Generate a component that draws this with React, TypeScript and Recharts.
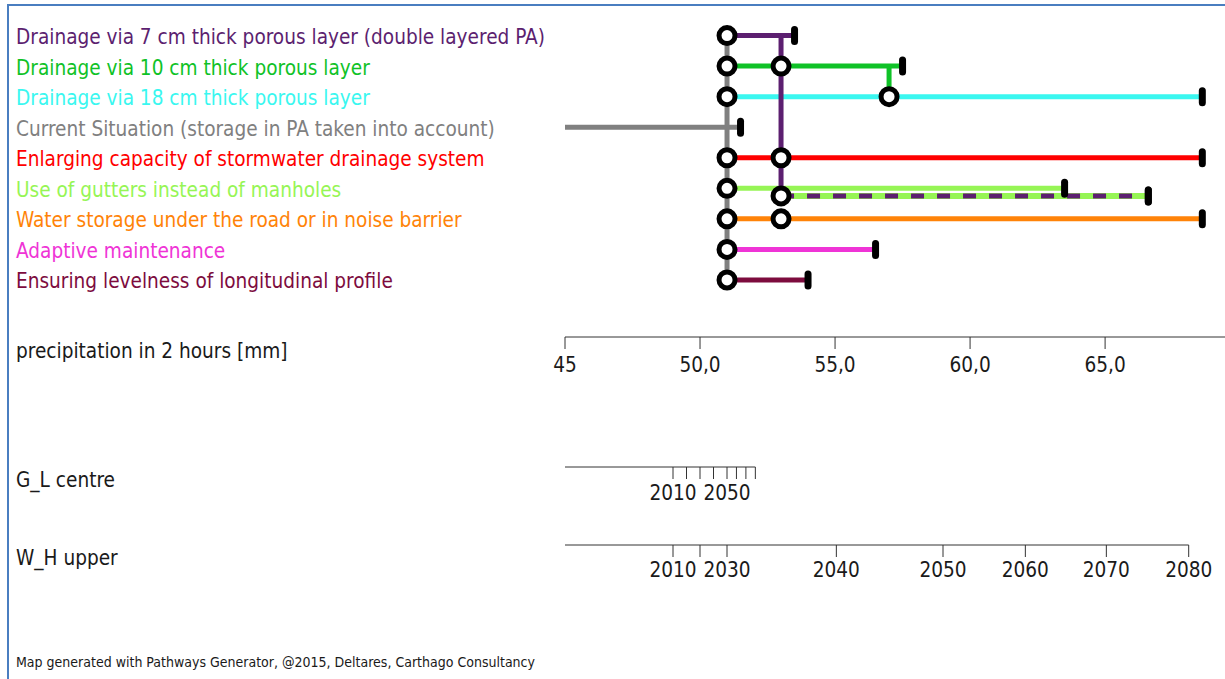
import React from 'react';
import { ComposedChart, LineChart, Line, Scatter, XAxis, YAxis } from 'recharts';

const FONT = '"DejaVu Sans Condensed", "DejaVu Sans", sans-serif';
const FS = 20.6;

// ---- Measures (rows) ----
const measureNames = [
  'Drainage via 7 cm thick porous layer (double layered PA)',
  'Drainage via 10 cm thick porous layer',
  'Drainage via 18 cm thick porous layer',
  'Current Situation (storage in PA taken into account)',
  'Enlarging capacity of stormwater drainage system',
  'Use of gutters instead of manholes',
  'Water storage under the road or in noise barrier',
  'Adaptive maintenance',
  'Ensuring levelness of longitudinal profile',
];
const measureColors = [
  '#5c1f70', '#0fc227', '#3af7f0', '#808080', '#ff0000',
  '#96f555', '#ff8308', '#ef34d6', '#7d0c3e',
];
const measureRows = [0, 1, 2, 3, 4, 5, 6, 7, 8];

// ---- Horizontal pathway segments (row, start, end in mm) ----
const segRows = [0, 1, 2, 3, 4, 5, 5.25, 6, 7, 8];
const segStarts = [51, 51, 51, 45, 51, 51, 53, 51, 51, 51];
const segEnds = [53.5, 57.5, 68.6, 51.5, 68.6, 63.5, 66.6, 68.6, 56.5, 54];
const segColorIdx = [0, 1, 2, 3, 4, 5, 5, 6, 7, 8];

// dashed overlay (purple pathway continuing on gutters)
const dashRow = 5.25;
const dashStart = 53;
const dashEnd = 66.6;

// ---- Vertical transfers (x, fromRow, toRow, colour index) ----
const transferX = [51, 53, 57];
const transferFrom = [0, 0, 1];
const transferTo = [8, 5.25, 2];
const transferColorIdx = [3, 0, 1];

// ---- Transfer nodes (circles) ----
const nodeX = [51, 51, 51, 51, 51, 51, 51, 51, 53, 53, 53, 53, 57];
const nodeRow = [0, 1, 2, 4, 5, 6, 7, 8, 1, 4, 5.25, 6, 2];

// ---- Axes ----
const precipTicks = [45, 50, 55, 60, 65];
const precipDomain = [45, 69.44];

const years = [2010, 2020, 2030, 2040, 2050, 2060, 2070, 2080];
const glValues = [49, 49.5, 50, 50.5, 51, 51.35, 51.7, 52.05];
const glShown = [true, false, false, false, true, false, false, false];
const whValues = [49, 50, 51, 55.05, 59, 62.05, 65.05, 68.1];
const whShown = [true, false, true, true, true, true, true, true];

const PLOT_LEFT = 565;
const PX_PER_MM = 27;
const LABEL_X = 16;

const seg = (x1: number, y1: number, x2: number, y2: number) => [
  { x: x1, y: y1 },
  { x: x2, y: y2 },
];

const NodeShape = (p: any) => (
  <circle cx={p.cx} cy={p.cy} r={8} fill="#ffffff" stroke="#000000" strokeWidth={5} />
);
const CapShape = (p: any) => (
  <rect x={p.cx - 3.5} y={p.cy - 9.5} width={7} height={19} rx={3.5} ry={3.5} fill="#000000" />
);

const RowLabel = (p: any) => {
  const v = p.payload.value;
  const i = measureRows.indexOf(v);
  if (i < 0) return null;
  return (
    <text x={LABEL_X} y={p.y + 8.5} fill={measureColors[i]} fontSize={FS} fontFamily={FONT} textAnchor="start">
      {measureNames[i]}
    </text>
  );
};

const fmtPrecip = (v: number) => (v === 45 ? '45' : v.toFixed(1).replace('.', ','));

const tickStyle = { fontSize: FS, fontFamily: FONT, fill: '#1a1a1a' };

function TimeAxis({ top, values, shown, maxVal, margin }: any) {
  const data = values.map((v: number, i: number) => ({ x: v, y: 0, year: years[i] }));
  const plotW = (maxVal - 45) * PX_PER_MM;
  const width = 1225;
  return (
    <div style={{ position: 'absolute', left: 0, top }}>
      <LineChart
        width={width}
        height={80}
        data={data}
        margin={{ top: 5, right: width - PLOT_LEFT - plotW, bottom: 0, left: PLOT_LEFT }}
      >
        <XAxis
          dataKey="x"
          type="number"
          domain={[45, maxVal]}
          ticks={values}
          interval={0}
          height={43}
          tickSize={12}
          tickMargin={margin}
          stroke="#333"
          tick={tickStyle}
          tickFormatter={(v: number) => {
            const i = values.indexOf(v);
            return i >= 0 && shown[i] ? String(years[i]) : '';
          }}
          allowDataOverflow
        />
        <YAxis hide domain={[0, 1]} dataKey="y" type="number" width={0} />
      </LineChart>
    </div>
  );
}

export default function App() {
  const lines: any[] = [];
  segRows.forEach((r, i) => {
    lines.push(
      <Line
        key={'h' + i}
        data={seg(segStarts[i], r, segEnds[i], r)}
        dataKey="y"
        stroke={measureColors[segColorIdx[i]]}
        strokeWidth={i === 6 ? 6 : 5}
        strokeLinecap="round"
        dot={false}
        activeDot={false}
        isAnimationActive={false}
      />
    );
  });
  lines.push(
    <Line
      key="dash"
      data={seg(dashStart, dashRow, dashEnd, dashRow)}
      dataKey="y"
      stroke={measureColors[0]}
      strokeWidth={5}
      strokeDasharray="13 13"
      dot={false}
      activeDot={false}
      isAnimationActive={false}
    />
  );
  transferX.forEach((x, i) => {
    lines.push(
      <Line
        key={'v' + i}
        data={seg(x, transferFrom[i], x, transferTo[i])}
        dataKey="y"
        stroke={measureColors[transferColorIdx[i]]}
        strokeWidth={5}
        dot={false}
        activeDot={false}
        isAnimationActive={false}
      />
    );
  });

  const nodes = nodeX.map((x, i) => ({ x, y: nodeRow[i] }));
  const caps = segEnds.map((x, i) => ({ x, y: segRows[i] })).concat([{ x: dashEnd, y: dashRow }]);

  const textStyle: React.CSSProperties = { fontFamily: FONT };

  return (
    <div style={{ position: 'absolute', left: 0, top: 0, width: 1225, height: 679, background: '#fff', overflow: 'hidden' }}>
      <div
        style={{
          position: 'absolute',
          left: 7,
          top: 4,
          width: 1230,
          height: 690,
          borderLeft: '2px solid #4a7ec0',
          borderTop: '2px solid #4a7ec0',
        }}
      />
      <div style={{ position: 'absolute', left: 0, top: 0 }}>
        <ComposedChart width={1225} height={400} margin={{ top: 5, right: 0, bottom: 23, left: 16 }}>
          <XAxis
            dataKey="x"
            type="number"
            domain={precipDomain}
            ticks={precipTicks}
            interval={0}
            height={40}
            tickSize={12}
            tickMargin={8}
            stroke="#333"
            tick={tickStyle}
            tickFormatter={fmtPrecip}
            allowDataOverflow
          />
          <YAxis
            dataKey="y"
            type="number"
            domain={[-1, 9.867]}
            reversed
            ticks={measureRows}
            interval={0}
            width={549}
            axisLine={false}
            tickLine={false}
            tick={<RowLabel />}
            allowDataOverflow
          />
          {lines}
          <Scatter data={nodes} dataKey="y" shape={NodeShape} isAnimationActive={false} />
          <Scatter data={caps} dataKey="y" shape={CapShape} isAnimationActive={false} />
        </ComposedChart>
      </div>
      <TimeAxis top={430} values={glValues} shown={glShown} maxVal={52.05} margin={6} />
      <TimeAxis top={508} values={whValues} shown={whShown} maxVal={68.1} margin={5} />
      <svg width={1225} height={679} style={{ position: 'absolute', left: 0, top: 0, pointerEvents: 'none' }}>
        <text x={LABEL_X} y={358} fontSize={FS} fill="#1a1a1a" style={textStyle}>precipitation in 2 hours [mm]</text>
        <text x={LABEL_X} y={487} fontSize={FS} fill="#1a1a1a" style={textStyle}>G_L centre</text>
        <text x={LABEL_X} y={565} fontSize={FS} fill="#1a1a1a" style={textStyle}>W_H upper</text>
        <text x={LABEL_X} y={667} fontSize={14} fill="#1a1a1a" style={textStyle}>
          Map generated with Pathways Generator, @2015, Deltares, Carthago Consultancy
        </text>
      </svg>
    </div>
  );
}
